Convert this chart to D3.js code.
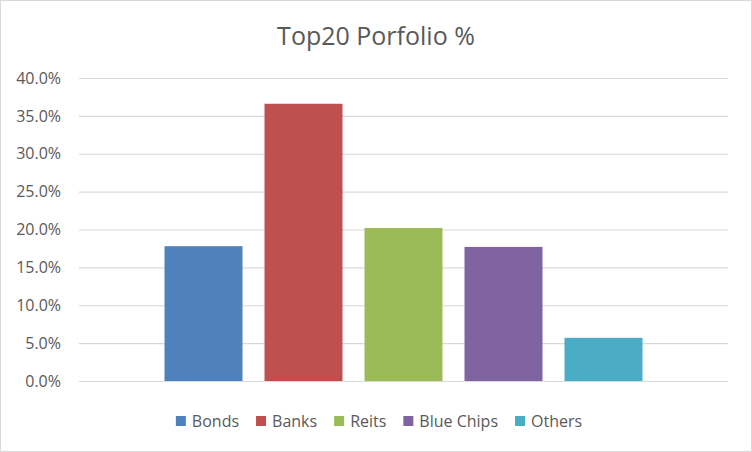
<!DOCTYPE html>
<html>
<head>
<meta charset="utf-8">
<script src="https://cdn.jsdelivr.net/npm/d3@7/dist/d3.min.js"></script>
<style>
  html, body { margin: 0; padding: 0; background: #fff; }
  svg { display: block; }
  text { font-family: "Open Sans", "Noto Sans", sans-serif; fill: #595959; }
</style>
</head>
<body>
<svg id="chart" width="752" height="452"></svg>
<script>
// Portfolio allocation by asset class (share of top 20 holdings)
const seriesNames = ["Bonds", "Banks", "Reits", "Blue Chips", "Others"];
const seriesValues = [0.178, 0.366, 0.202, 0.177, 0.057];
const seriesColors = ["#4F81BD", "#C0504D", "#9BBB59", "#8064A2", "#4BACC6"];
const yTicks = [0, 0.05, 0.10, 0.15, 0.20, 0.25, 0.30, 0.35, 0.40];
const chartTitle = "Top20 Porfolio %";

const W = 752, H = 452;
const plot = { left: 79, right: 728, top: 78, bottom: 381 };

const svg = d3.select("#chart");

// outer frame
svg.append("rect")
  .attr("x", 0.5).attr("y", 0.5)
  .attr("width", W - 1).attr("height", H - 1)
  .attr("fill", "#fff").attr("stroke", "#d9d9d9");

const y = d3.scaleLinear().domain([0, 0.40]).range([plot.bottom, plot.top]);
const x = d3.scaleBand()
  .domain(seriesNames)
  .range([plot.left, plot.right])
  .paddingInner(0.22)
  .paddingOuter(0.855);

// gridlines and tick labels
const yAxis = d3.axisLeft(y)
  .tickValues(yTicks)
  .tickFormat(d3.format(".1%"))
  .tickSize(-(plot.right - plot.left))
  .tickPadding(18);

const gy = svg.append("g")
  .attr("transform", `translate(${plot.left},0)`)
  .call(yAxis);
gy.select(".domain").remove();
gy.selectAll(".tick line").attr("stroke", "#d9d9d9").attr("stroke-width", 1.2);
gy.selectAll(".tick text")
  .attr("font-size", 16)
  .attr("fill", "#595959")
  .style("font-family", "'Open Sans', 'Noto Sans', sans-serif");

// bars
svg.append("g").selectAll("rect")
  .data(seriesValues)
  .join("rect")
  .attr("x", (d, i) => x(seriesNames[i]))
  .attr("y", d => y(d))
  .attr("width", x.bandwidth())
  .attr("height", d => y(0) - y(d))
  .attr("fill", (d, i) => seriesColors[i]);

// title
svg.append("text")
  .attr("x", 376).attr("y", 45)
  .attr("text-anchor", "middle")
  .attr("font-size", 25)
  .text(chartTitle);

// legend
const legend = svg.append("g");
const items = legend.selectAll("g")
  .data(seriesNames)
  .join("g");
items.append("rect")
  .attr("width", 10).attr("height", 10)
  .attr("y", -5)
  .attr("fill", (d, i) => seriesColors[i]);
items.append("text")
  .attr("x", 16)
  .attr("dy", "0.35em")
  .attr("font-size", 16)
  .text(d => d);

let offset = 0;
items.each(function () {
  const g = d3.select(this);
  g.attr("transform", `translate(${offset},0)`);
  const tw = g.select("text").node().getComputedTextLength();
  offset += 16 + tw + 17;
});
const legendWidth = offset - 17;
legend.attr("transform", `translate(${379 - legendWidth / 2},421)`);
</script>
</body>
</html>
